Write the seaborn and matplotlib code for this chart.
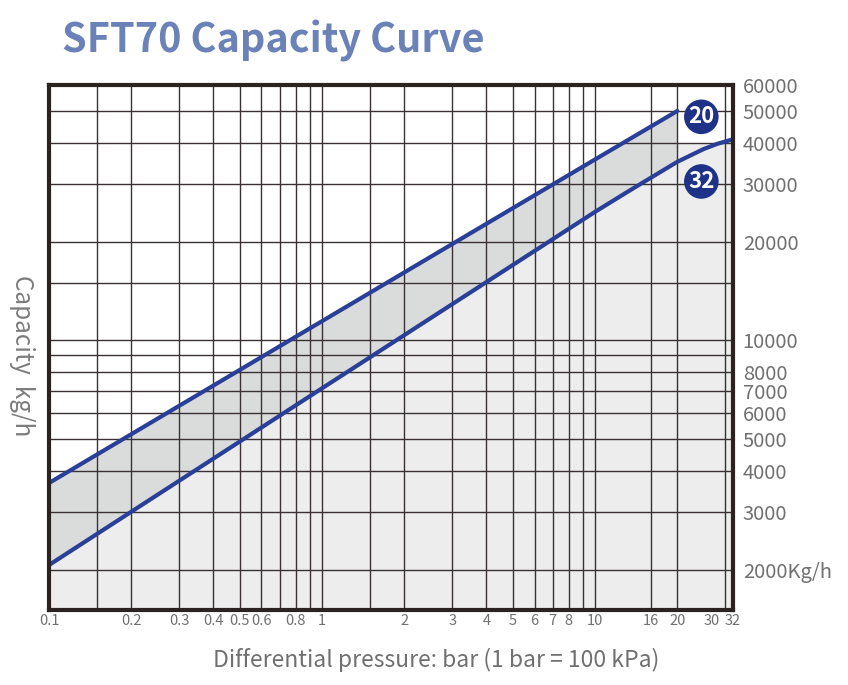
import numpy as np
import matplotlib
matplotlib.use("Agg")
import matplotlib.pyplot as plt
import matplotlib.transforms as mtransforms
import seaborn as sns

sns.set_theme(style="white")
plt.rcParams["font.family"] = ["Noto Sans CJK SC", "DejaVu Sans"]

# curve "20" (upper) and curve "32" (lower)
upper_x = [0.1, 1, 10, 20]
upper_y = [3680, 11450, 35600, 50000]
lower_x = [0.1, 1, 10, 13, 16, 20, 25, 28, 32]
lower_y = [2070, 7150, 24650, 28200, 31300, 35000, 38300, 39700, 41000]

x_ticks = [0.1, 0.2, 0.3, 0.4, 0.5, 0.6, 0.8, 1, 2, 3, 4, 5, 6, 7, 8, 10, 16, 20, 30, 32]
x_minor = [0.15, 0.7, 0.9, 1.5, 9]
y_ticks = [2000, 3000, 4000, 5000, 6000, 7000, 8000, 10000, 20000, 30000, 40000, 50000, 60000]
y_labels = ["2000Kg/h", "3000", "4000", "5000", "6000", "7000", "8000", "10000",
            "20000", "30000", "40000", "50000", "60000"]
y_minor = [9000, 15000]

badges = ["20", "32"]
badge_x = [24.5, 24.5]
badge_y = [48000, 30500]

x_lim = (0.1, 32)
y_lim = (1510, 60000)
shade_top = 40000

blue = "#2a3f98"
navy = "#1e3288"
grey_txt = "#707070"
line_col = "#3a3232"

fig = plt.figure(figsize=(8.48, 6.85), dpi=100)
ax = fig.add_axes([49 / 848, 75 / 685, 684 / 848, 525 / 685])
ax.set_xscale("log")
ax.set_yscale("log")
ax.set_xlim(*x_lim)
ax.set_ylim(*y_lim)

ux, uy = np.array(upper_x, float), np.array(upper_y, float)
lx, ly = np.array(lower_x, float), np.array(lower_y, float)

# light grey under the lower curve
ax.fill_between(lx, y_lim[0], ly, color="#ededed", lw=0, zorder=0.5)
sel = lx >= upper_x[-1]
ax.fill_between(lx[sel], ly[sel], shade_top, color="#ededed", lw=0, zorder=0.5)

# darker band between the two curves
bx = np.union1d(ux, lx[lx <= upper_x[-1]])
b_up = 10 ** np.interp(np.log10(bx), np.log10(ux), np.log10(uy))
b_lo = 10 ** np.interp(np.log10(bx), np.log10(lx), np.log10(ly))
ax.fill_between(bx, b_lo, b_up, color="#dadcdc", lw=0, zorder=0.6)

# curves
sns.lineplot(x=upper_x, y=upper_y, ax=ax, color=blue, lw=3, zorder=3)
sns.lineplot(x=lower_x, y=lower_y, ax=ax, color=blue, lw=3, zorder=3)

# badges
ax.scatter(badge_x, badge_y, s=620, color=navy, zorder=4, edgecolor="none", clip_on=False)
for t, bxx, byy in zip(badges, badge_x, badge_y):
    ax.text(bxx, byy, t, color="white", fontsize=16, fontweight="bold",
            ha="center", va="center", zorder=5)

# grid
ax.set_xticks(x_ticks)
ax.set_xticklabels([f"{v:g}" for v in x_ticks])
ax.set_xticks(x_minor, minor=True)
ax.set_xticklabels([], minor=True)
ax.yaxis.tick_right()
ax.set_yticks(y_ticks)
ax.set_yticklabels(y_labels)
ax.set_yticks(y_minor, minor=True)
ax.set_yticklabels([], minor=True)
ax.grid(True, which="both", color=line_col, lw=1.0, zorder=1)
ax.set_axisbelow(False)
ax.tick_params(axis="both", which="both", length=0)
ax.tick_params(axis="x", pad=3, labelsize=10.5, labelcolor=grey_txt)
ax.tick_params(axis="y", pad=7, labelsize=14.5, labelcolor=grey_txt)
for lab in ax.get_xticklabels():
    if lab.get_text() == "30":
        lab.set_transform(lab.get_transform() +
                          mtransforms.ScaledTranslation(-0.14, 0, fig.dpi_scale_trans))

for s in ax.spines.values():
    s.set_visible(True)
    s.set_color("#2b2222")
    s.set_linewidth(3)
    s.set_zorder(6)

fig.text(62 / 848, 1 - 53 / 685, "SFT70 Capacity Curve", fontsize=28.5, fontweight="bold",
         color="#6a82b8", ha="left", va="baseline")
fig.text(436 / 848, 1 - 660 / 685, "Differential pressure: bar (1 bar = 100 kPa)",
         fontsize=16.5, color=grey_txt, ha="center", va="center")
fig.text(22 / 848, 1 - 356 / 685, "Capacity  kg/h", fontsize=17.5, color="#7c7c7c",
         rotation=270, ha="center", va="center")

fig.savefig("out.png", dpi=100)
